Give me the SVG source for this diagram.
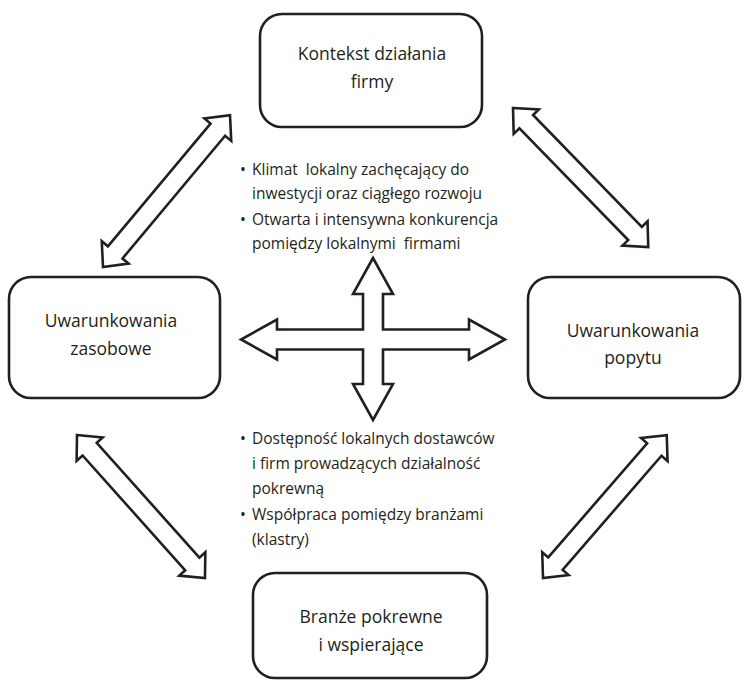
<svg xmlns="http://www.w3.org/2000/svg" width="749" height="683" viewBox="0 0 749 683">
<style>
.box{fill:#fff;stroke:#231f20;stroke-width:2.6}
.arr{fill:#fff;stroke:#231f20;stroke-width:2.6;stroke-linejoin:miter}
.t{font-family:"Open Sans","Noto Sans","DejaVu Sans",sans-serif;font-size:17.5px;fill:#231f20;text-anchor:middle}
.b{font-family:"Open Sans","Noto Sans","DejaVu Sans",sans-serif;font-size:15.5px;fill:#231f20}
</style>
<rect width="749" height="683" fill="#fff"/>
<g id="connectors">
<polygon class="arr" transform="translate(103,267) rotate(-50.1)" points="0,0 19,-17.5 19,-9.5 179,-9.5 179,-17.5 198,0 179,17.5 179,9.5 19,9.5 19,17.5"/>
<polygon class="arr" transform="translate(513,108) rotate(45.8)" points="0,0 19,-17.5 19,-9.5 175,-9.5 175,-17.5 194,0 175,17.5 175,9.5 19,9.5 19,17.5"/>
<polygon class="arr" transform="translate(77,435) rotate(48.2)" points="0,0 19,-17.5 19,-9.5 173,-9.5 173,-17.5 192,0 173,17.5 173,9.5 19,9.5 19,17.5"/>
<polygon class="arr" transform="translate(543,578) rotate(-49.1)" points="0,0 19,-17.5 19,-9.5 170,-9.5 170,-17.5 189,0 170,17.5 170,9.5 19,9.5 19,17.5"/>
<polygon id="cross" class="arr" points="373,258 393,294 383,294 383,329.5 469,329.5 469,319.5 505,339.5 469,359.5 469,349.5 383,349.5 383,384 393,384 373,420 353,384 363,384 363,349.5 277,349.5 277,359.5 241,339.5 277,319.5 277,329.5 363,329.5 363,294 353,294"/>
</g>
<g id="node-kontekst">
<rect class="box" x="260" y="14" width="222" height="113" rx="22"/>
<text class="t" x="372" y="60">Kontekst działania</text>
<text class="t" x="372" y="88">firmy</text>
</g>
<g id="node-zasobowe">
<rect class="box" x="9" y="277" width="211" height="121" rx="22"/>
<text class="t" x="111" y="327">Uwarunkowania</text>
<text class="t" x="111" y="355">zasobowe</text>
</g>
<g id="node-popytu">
<rect class="box" x="528" y="277" width="212" height="121" rx="22"/>
<text class="t" x="633" y="337">Uwarunkowania</text>
<text class="t" x="633" y="364">popytu</text>
</g>
<g id="node-branze">
<rect class="box" x="253" y="573" width="234" height="105" rx="22"/>
<text class="t" x="371" y="623">Branże pokrewne</text>
<text class="t" x="371" y="651">i wspierające</text>
</g>
<g id="text-top">
<text class="b" x="240" y="175">•</text>
<text class="b" x="252" y="175" xml:space="preserve">Klimat  lokalny zachęcający do</text>
<text class="b" x="252" y="199">inwestycji oraz ciągłego rozwoju</text>
<text class="b" x="240" y="225">•</text>
<text class="b" x="252" y="225">Otwarta i intensywna konkurencja</text>
<text class="b" x="252" y="249" xml:space="preserve">pomiędzy lokalnymi  firmami</text>
</g>
<g id="text-bottom">
<text class="b" x="240" y="444">•</text>
<text class="b" x="252" y="444">Dostępność lokalnych dostawców</text>
<text class="b" x="252" y="469">i firm prowadzących działalność</text>
<text class="b" x="252" y="494">pokrewną</text>
<text class="b" x="240" y="520">•</text>
<text class="b" x="252" y="520">Współpraca pomiędzy branżami</text>
<text class="b" x="252" y="545">(klastry)</text>
</g>
</svg>
